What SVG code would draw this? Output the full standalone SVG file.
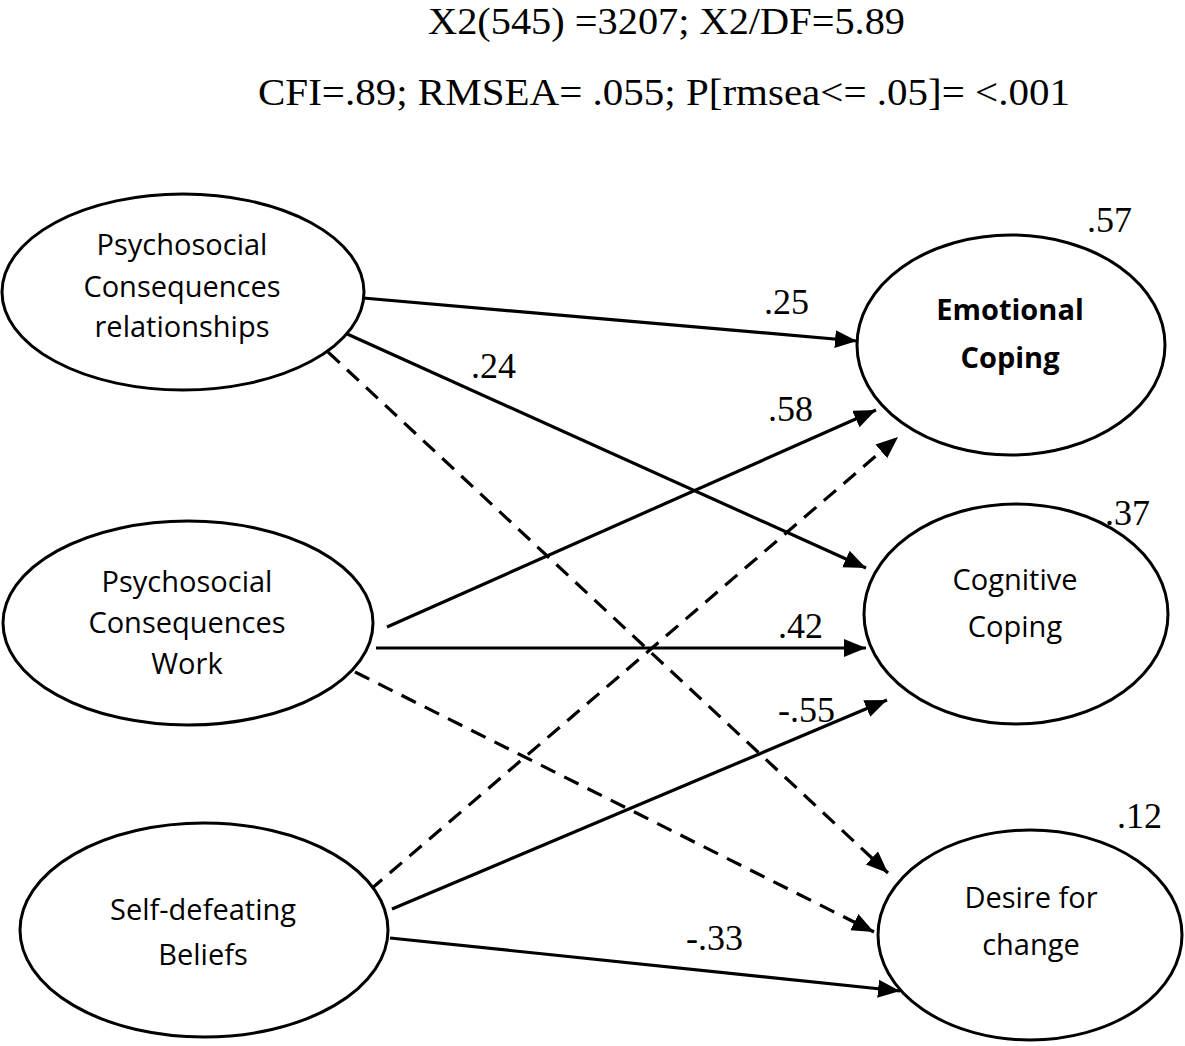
<svg xmlns="http://www.w3.org/2000/svg" width="1185" height="1046" viewBox="0 0 1185 1046">
<style>
.node{fill:#fff;stroke:#000;stroke-width:3}
.lbl{font-family:"Open Sans","Liberation Sans",sans-serif;font-size:29px;fill:#000;text-anchor:middle}
.b{font-weight:bold}
.num{font-family:"Liberation Serif","Times New Roman",serif;font-size:36px;fill:#000}
.hdr{font-family:"Liberation Serif","Times New Roman",serif;font-size:38px;fill:#000}
.ln{stroke:#000;stroke-width:3.2;fill:none;marker-end:url(#ah)}
.d{stroke-dasharray:16 10}
</style>
<defs>
<marker id="ah" markerUnits="userSpaceOnUse" markerWidth="24" markerHeight="20" refX="22" refY="9" orient="auto">
<path d="M0,0 L22,9 L0,18 z" fill="#000"/>
</marker>
</defs>
<rect width="1185" height="1046" fill="#fff"/>
<g id="header">
<text class="hdr" x="428" y="34" textLength="477" lengthAdjust="spacingAndGlyphs">X2(545) =3207; X2/DF=5.89</text>
<text class="hdr" x="258" y="105" textLength="812" lengthAdjust="spacingAndGlyphs">CFI=.89; RMSEA= .055; P[rmsea&lt;= .05]= &lt;.001</text>
</g>
<g id="connectors">
<line class="ln" x1="363" y1="298" x2="857" y2="341"/>
<line class="ln" x1="345" y1="333" x2="866" y2="568"/>
<line class="ln d" x1="328" y1="352" x2="888" y2="873"/>
<line class="ln" x1="387" y1="627" x2="876" y2="410"/>
<line class="ln" x1="376" y1="648" x2="866" y2="648"/>
<line class="ln d" x1="355" y1="672" x2="874" y2="932"/>
<line class="ln d" x1="370" y1="890" x2="898" y2="437"/>
<line class="ln" x1="392" y1="909" x2="887" y2="700"/>
<line class="ln" x1="390" y1="938" x2="900" y2="991"/>
</g>
<g id="coefficients">
<text class="num" x="764" y="314">.25</text>
<text class="num" x="471" y="378">.24</text>
<text class="num" x="768" y="421">.58</text>
<text class="num" x="778" y="638">.42</text>
<text class="num" x="778" y="722">-.55</text>
<text class="num" x="686" y="950">-.33</text>
<text class="num" x="1087" y="232">.57</text>
<text class="num" x="1105" y="525">.37</text>
<text class="num" x="1117" y="828">.12</text>
</g>
<g id="node-relationships">
<ellipse class="node" cx="183" cy="292" rx="181" ry="98"/>
<text class="lbl" x="182" y="255">Psychosocial</text>
<text class="lbl" x="182" y="297">Consequences</text>
<text class="lbl" x="182" y="337">relationships</text>
</g>
<g id="node-work">
<ellipse class="node" cx="188" cy="623" rx="185" ry="102"/>
<text class="lbl" x="187" y="592">Psychosocial</text>
<text class="lbl" x="187" y="633">Consequences</text>
<text class="lbl" x="187" y="674">Work</text>
</g>
<g id="node-selfdefeating">
<ellipse class="node" cx="204" cy="930" rx="184" ry="107"/>
<text class="lbl" x="203" y="920">Self-defeating</text>
<text class="lbl" x="203" y="965">Beliefs</text>
</g>
<g id="node-emotional">
<ellipse class="node" cx="1011" cy="345" rx="154" ry="110"/>
<text class="lbl b" x="1010" y="320">Emotional</text>
<text class="lbl b" x="1010" y="368">Coping</text>
</g>
<g id="node-cognitive">
<ellipse class="node" cx="1016" cy="614" rx="152" ry="110"/>
<text class="lbl" x="1015" y="590">Cognitive</text>
<text class="lbl" x="1015" y="637">Coping</text>
</g>
<g id="node-desire">
<ellipse class="node" cx="1030" cy="935" rx="152" ry="105"/>
<text class="lbl" x="1031" y="908">Desire for</text>
<text class="lbl" x="1031" y="955">change</text>
</g>
</svg>
